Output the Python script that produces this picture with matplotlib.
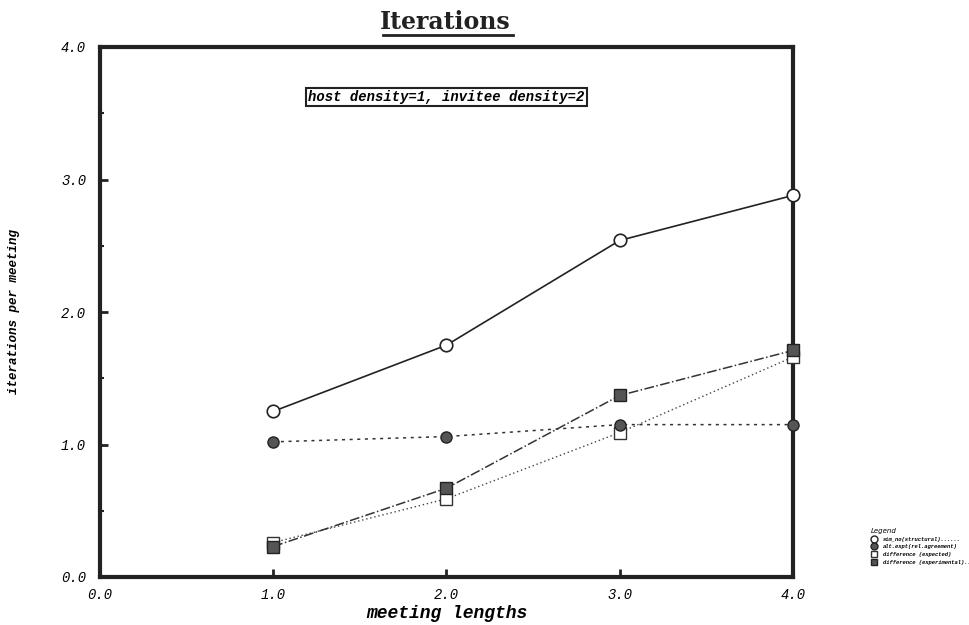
import numpy as np
import matplotlib.pyplot as plt
from matplotlib.lines import Line2D

# data
meeting_lengths = [1.0, 2.0, 3.0, 4.0]
sim_structural = [1.25, 1.75, 2.54, 2.88]
alt_expt = [1.02, 1.06, 1.15, 1.15]
diff_experimental = [0.23, 0.67, 1.37, 1.71]
diff_expected = [0.26, 0.59, 1.09, 1.66]

legend_labels = ['sim_no(structural)......',
                 'alt.expt(rel.agreement)',
                 'difference (expected)',
                 'difference (experimental)..']

mono = 'Liberation Mono'

fig = plt.figure(figsize=(9.7, 6.25), dpi=100)
ax = fig.add_axes([0.1031, 0.0768, 0.7144, 0.848])

ax.plot(meeting_lengths, sim_structural, color='#222222', lw=1.2, ls='-',
        marker='o', ms=9, mfc='white', mec='#222222', mew=1.2, clip_on=False, zorder=5)
ax.plot(meeting_lengths, alt_expt, color='#333333', lw=1.1, ls=(0, (2, 3)),
        marker='o', ms=8, mfc='#555555', mec='#222222', mew=1, clip_on=False, zorder=5)
ax.plot(meeting_lengths, diff_experimental, color='#333333', lw=1.1, ls='-.',
        marker='s', ms=8, mfc='#555555', mec='#222222', mew=1, clip_on=False, zorder=5)
ax.plot(meeting_lengths, diff_expected, color='#444444', lw=1.0, ls=(0, (1, 2)),
        marker='s', ms=8, mfc='white', mec='#333333', mew=1, clip_on=False, zorder=4)

ax.set_xlim(0, 4)
ax.set_ylim(0, 4)
ax.set_xticks([0, 1, 2, 3, 4])
ax.set_yticks([0, 1, 2, 3, 4])
ax.set_yticks([0.5, 1.5, 2.5, 3.5], minor=True)
ax.set_xticklabels(['0.0', '1.0', '2.0', '3.0', '4.0'], family=mono, style='italic', fontsize=10)
ax.set_yticklabels(['0.0', '1.0', '2.0', '3.0', '4.0'], family=mono, style='italic', fontsize=10)
ax.tick_params(axis='both', which='major', direction='in', length=6, width=2, color='#222222')
ax.tick_params(axis='y', which='minor', direction='in', length=3, width=1.5, color='#222222')
ax.tick_params(axis='y', pad=10)
ax.tick_params(axis='x', pad=8)
for s in ax.spines.values():
    s.set_linewidth(3)
    s.set_color('#222222')

ax.set_xlabel('meeting lengths', family=mono, weight='bold', style='italic', fontsize=13, labelpad=2)
ax.set_ylabel('iterations per meeting', family=mono, weight='bold', style='italic', fontsize=9)
ax.yaxis.set_label_coords(-0.115, 0.5)

ax.text(2.0, 3.62, 'host density=1, invitee density=2', family=mono, weight='bold',
        style='italic', fontsize=10, ha='center', va='center',
        bbox=dict(boxstyle='square,pad=0.15', fc='white', ec='#222222', lw=1.5))

fig.text(0.459, 0.965, 'Iterations', family='DejaVu Serif', weight='bold', fontsize=17,
         ha='center', va='center', color='#222222')
fig.add_artist(Line2D([0.395, 0.529], [0.944, 0.944], color='#222222', lw=2))

handles = [
    Line2D([], [], ls='none', marker='o', ms=5, mfc='white', mec='#222222'),
    Line2D([], [], ls='none', marker='o', ms=5, mfc='#555555', mec='#222222'),
    Line2D([], [], ls='none', marker='s', ms=5, mfc='white', mec='#333333'),
    Line2D([], [], ls='none', marker='s', ms=5, mfc='#555555', mec='#222222'),
]
fig.legend(handles, legend_labels, loc='upper left', bbox_to_anchor=(0.895, 0.16),
           frameon=False, title='Legend', title_fontsize=5,
           prop=dict(family=mono, style='italic', weight='bold', size=4),
           handlelength=1.2, handletextpad=1.0, labelspacing=0.5, borderpad=0)
fig.legends[0].get_title().set_style('italic')
fig.legends[0]._legend_box.align = 'left'

fig.savefig('out.png', dpi=100, facecolor='white')
